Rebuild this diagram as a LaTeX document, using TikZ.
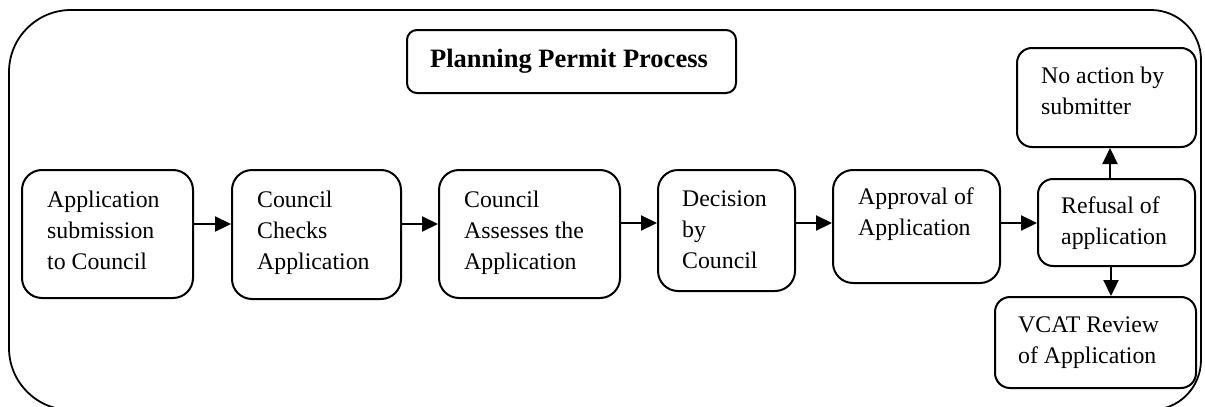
\documentclass[tikz,border=0pt]{standalone}
\usepackage{fontspec}
\setmainfont{Liberation Serif}
\usetikzlibrary{arrows.meta}
\begin{document}
\begin{tikzpicture}[x=1pt,y=-1pt,
  stepbox/.style={draw, line width=2pt, rounded corners=20pt, anchor=north west, inner sep=0pt},
  txt/.style={anchor=base west, align=left, inner sep=0pt, font=\fontsize{23.8}{31}\selectfont},
  arr/.style={line width=2.2pt, -{Triangle[length=16pt,width=15pt]}}]
\useasboundingbox (0,0) rectangle (1205,407);
% outer frame
\draw[line width=1.8pt, rounded corners=62pt] (600,10) -- (9,10) -- (9,410) -- (600,410)
  [rounded corners=50pt] -- (1201,410) -- (1201,10) -- (600,10);
% title
\node[stepbox, rounded corners=10pt, minimum width=329pt, minimum height=63pt] (title) at (406,29) {};
\node[anchor=base, inner sep=0pt, font=\fontsize{26.5}{31}\selectfont\bfseries] (ttl) at (569,67) {Planning Permit Process};
% process boxes
\node[stepbox, minimum width=171pt, minimum height=128pt] (b1) at (21,169) {};
\node[stepbox, minimum width=169pt, minimum height=129pt] (b2) at (231,169) {};
\node[stepbox, minimum width=181pt, minimum height=128pt] (b3) at (438,169) {};
\node[stepbox, minimum width=137pt, minimum height=121pt] (b4) at (657,169) {};
\node[stepbox, minimum width=167pt, minimum height=113pt] (b5) at (832,169) {};
\node[stepbox, rounded corners=15pt, minimum width=157pt, minimum height=87pt] (b6) at (1037,178) {};
\node[stepbox, rounded corners=15pt, minimum width=179pt, minimum height=99pt] (b7) at (1016,47) {};
\node[stepbox, rounded corners=15pt, minimum width=201pt, minimum height=91pt] (b8) at (994,296) {};
% box texts, placed by the baseline of their last line
\node[txt] (t1) at (47,269) {Application\\submission\\to Council};
\node[txt] (t2) at (257,269) {Council\\Checks\\Application};
\node[txt] (t3) at (464,269) {Council\\Assesses the\\Application};
\node[txt] (t4) at (682,268) {Decision\\by\\Council};
\node[txt] (t5) at (858,235) {Approval of\\Application};
\node[txt] (t6) at (1061,244) {Refusal of\\application};
\node[txt] (t7) at (1041,114) {No action by\\submitter};
\node[txt] (t8) at (1018,363) {VCAT Review\\of Application};
% connectors
\draw[arr] (b1.east |- 0,224) -- (b2.west |- 0,224);
\draw[arr] (b2.east |- 0,224) -- (b3.west |- 0,224);
\draw[arr] (b3.east |- 0,223) -- (b4.west |- 0,223);
\draw[arr] (b4.east |- 0,223) -- (b5.west |- 0,223);
\draw[arr] (b5.east |- 0,223) -- (b6.west |- 0,223);
\draw[arr] (b6.north -| 1110,0) -- (b7.south -| 1110,0);
\draw[arr] (b6.south -| 1111,0) -- (b8.north -| 1111,0);
\end{tikzpicture}
\end{document}
